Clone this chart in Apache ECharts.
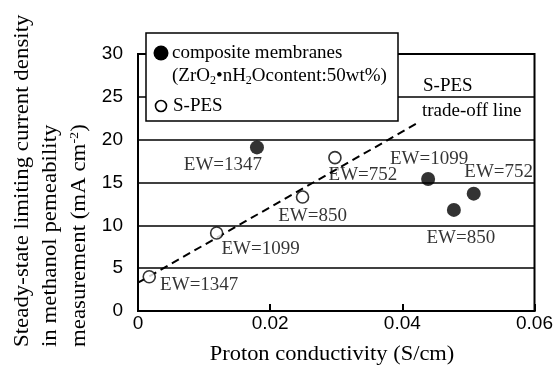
<!DOCTYPE html>
<html>
<head>
<meta charset="utf-8">
<script src="https://cdn.jsdelivr.net/npm/echarts@6/dist/echarts.min.js"></script>
<style>
  html, body { margin: 0; padding: 0; background: #fff; }
  #chart { width: 556px; height: 366px; }
</style>
</head>
<body>
<div id="chart"></div>
<script>
// Proton conductivity (S/cm) vs. methanol-limited current density (mA cm^-2)
const compositeEW = ['EW=1347', 'EW=1099', 'EW=752', 'EW=850'];
const compositeX = [0.018, 0.0439, 0.0508, 0.0478];
const compositeY = [19.1, 15.4, 13.7, 11.8];

const spesEW = ['EW=1347', 'EW=1099', 'EW=850', 'EW=752'];
const spesX = [0.0017, 0.0119, 0.0249, 0.0298];
const spesY = [4.0, 9.1, 13.3, 17.9];

// S-PES trade-off line end points
const tradeOffX = [0, 0.0423];
const tradeOffY = [3.3, 21.95];

const xTicks = [0, 0.02, 0.04, 0.06];
const yTicks = [0, 5, 10, 15, 20, 25, 30];

// label offsets (px) relative to each marker centre
const compositeLabelOffset = [[-34, 18], [1, -20], [25, -22], [7, 28]];
const spesLabelOffset = [[50, 8], [44, 16], [10, 19], [28, 17]];

const SERIF = '"Liberation Serif", "Times New Roman", serif';
const SANS = '"Liberation Sans", Arial, sans-serif';

function points(xs, ys, names, offsets) {
  return xs.map((x, i) => ({
    value: [x, ys[i]],
    label: {
      show: true,
      formatter: names[i],
      position: 'inside',
      offset: offsets[i],
      color: '#000',
      textBorderWidth: 0,
      fontFamily: SERIF,
      fontSize: 19
    }
  }));
}

const chart = echarts.init(document.getElementById('chart'), null, { renderer: 'canvas' });

const LZ = 100; // legend drawn above the grid lines and frame

chart.setOption({
  animation: false,
  backgroundColor: '#fff',
  grid: {
    left: 138, right: 18, top: 54, bottom: 55,
    show: true, borderColor: '#000', borderWidth: 2, backgroundColor: 'transparent'
  },
  xAxis: {
    type: 'value',
    min: xTicks[0], max: xTicks[xTicks.length - 1], interval: 0.02,
    axisLine: { show: true, lineStyle: { color: '#000', width: 2 } },
    axisTick: { show: true, inside: true, length: 7, lineStyle: { color: '#000', width: 2 } },
    splitLine: { show: false },
    axisLabel: {
      color: '#000', fontFamily: SANS, fontSize: 19, margin: 3,
      formatter: v => String(+v.toFixed(2))
    }
  },
  yAxis: {
    type: 'value',
    min: yTicks[0], max: yTicks[yTicks.length - 1], interval: 5,
    axisLine: { show: true, lineStyle: { color: '#000', width: 2 } },
    axisTick: { show: false },
    splitLine: { show: true, lineStyle: { color: '#000', width: 1.5 } },
    axisLabel: { color: '#000', fontFamily: SANS, fontSize: 19, margin: 15 }
  },
  series: [
    {
      name: 'S-PES trade-off line',
      type: 'line',
      data: tradeOffX.map((x, i) => [x, tradeOffY[i]]),
      symbol: 'none',
      lineStyle: { color: '#000', width: 2, type: [8, 5] },
      z: 3
    },
    {
      name: 'S-PES',
      type: 'scatter',
      data: points(spesX, spesY, spesEW, spesLabelOffset),
      symbol: 'circle',
      symbolSize: 12,
      itemStyle: { color: '#fff', borderColor: '#000', borderWidth: 1.6 },
      z: 4
    },
    {
      name: 'composite membranes',
      type: 'scatter',
      data: points(compositeX, compositeY, compositeEW, compositeLabelOffset),
      symbol: 'circle',
      symbolSize: 14,
      itemStyle: { color: '#000' },
      z: 4
    }
  ],
  graphic: [
    // legend box
    { type: 'rect', z: LZ, shape: { x: 146, y: 33, width: 252, height: 88 },
      style: { fill: '#fff', stroke: '#000', lineWidth: 1.5 } },
    { type: 'circle', z: LZ + 1, shape: { cx: 161, cy: 53, r: 7.5 }, style: { fill: '#000' } },
    { type: 'text', z: LZ + 1, x: 172, y: 53,
      style: { text: 'composite membranes', font: '19px ' + SERIF, fill: '#000', verticalAlign: 'middle' } },
    { type: 'text', z: LZ + 1, x: 172, y: 76,
      style: {
        text: '(ZrO{s|2}•nH{s|2}Ocontent:50wt%)',
        font: '19px ' + SERIF, fill: '#000', verticalAlign: 'middle',
        rich: { s: { font: '12px ' + SERIF, fill: '#000', padding: [10, 0, 0, 0] } }
      } },
    { type: 'circle', z: LZ + 1, shape: { cx: 161, cy: 106, r: 5.5 },
      style: { fill: '#fff', stroke: '#000', lineWidth: 1.6 } },
    { type: 'text', z: LZ + 1, x: 173, y: 106,
      style: { text: 'S-PES', font: '19px ' + SERIF, fill: '#000', verticalAlign: 'middle' } },
    // trade-off line caption
    { type: 'text', x: 423, y: 86, z: 50,
      style: { text: 'S-PES', font: '19px ' + SERIF, fill: '#000', verticalAlign: 'middle' } },
    { type: 'text', x: 422, y: 111, z: 50,
      style: { text: 'trade-off line', font: '19px ' + SERIF, fill: '#000', verticalAlign: 'middle' } },
    // x-axis title
    { type: 'text', x: 332, y: 354, z: 50, scaleX: 1.07,
      style: { text: 'Proton conductivity (S/cm)', font: '21px ' + SERIF, fill: '#000',
               align: 'center', verticalAlign: 'middle' } },
    // y-axis title, three lines reading upward
    { type: 'text', x: 8, y: 347, rotation: Math.PI / 2, scaleX: 1.09, z: 50,
      style: {
        text: 'Steady-state limiting current density\nin methanol pemeability\nmeasurement (mA cm{p|-2})',
        font: '21px ' + SERIF, fill: '#000', align: 'left', verticalAlign: 'top', lineHeight: 28.5,
        rich: { p: { font: '13px ' + SERIF, fill: '#000', padding: [0, 0, 10, 0], lineHeight: 28.5 } }
      } }
  ]
});
</script>
</body>
</html>
